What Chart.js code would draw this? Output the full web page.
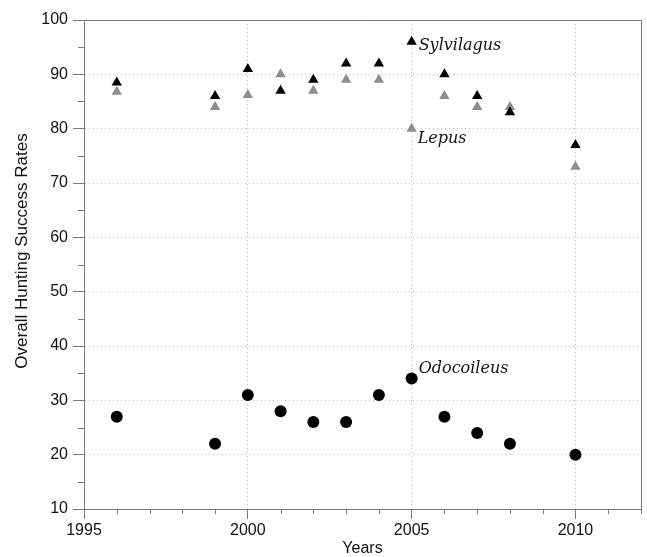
<!DOCTYPE html>
<html>
<head>
<meta charset="utf-8">
<script src="https://cdn.jsdelivr.net/npm/chart.js@4/dist/chart.umd.min.js"></script>
<style>
  html, body { margin: 0; padding: 0; background: #fff; }
  #wrap { width: 647px; height: 557px; }
</style>
</head>
<body>
<div id="wrap"><canvas id="huntChart"></canvas></div>
<script>
const years = [1996, 1999, 2000, 2001, 2002, 2003, 2004, 2005, 2006, 2007, 2008, 2010];
const sylvilagus = [88.5, 86, 91, 87, 89, 92, 92, 96, 90, 86, 83, 77];
const lepus = [86.8, 84, 86.2, 90, 87, 89, 89, 80, 86, 84, 84, 73];
const odocoileus = [27, 22, 31, 28, 26, 26, 31, 34, 27, 24, 22, 20];

const xTicks = [1995, 2000, 2005, 2010];
const xMinor = [1996, 1997, 1998, 1999, 2001, 2002, 2003, 2004, 2006, 2007, 2008, 2009, 2011, 2012];
const yTicks = [10, 20, 30, 40, 50, 60, 70, 80, 90, 100];
const yMinor = [15, 25, 35, 45, 55, 65, 75, 85, 95];

// species names written next to the 2005 points
const speciesLabels = [
  {text: 'Sylvilagus', x: 2005, y: 96, dx: 7, dy: 4},
  {text: 'Lepus', x: 2005, y: 80, dx: 6, dy: 10},
  {text: 'Odocoileus', x: 2005, y: 34, dx: 7, dy: -10}
];
const yTitle = 'Overall Hunting Success Rates';

const axisColor = '#7a7a7a';
const gridColor = '#bdbdbd';
const sansFont = 'Liberation Sans, Arial, sans-serif';

const toPoints = vals => vals.map((v, i) => ({x: years[i], y: v}));

const frameAndMinorTicks = {
  id: 'frameAndMinorTicks',
  afterDraw(chart) {
    const {ctx, chartArea: area, scales: {x, y}} = chart;
    ctx.save();
    ctx.strokeStyle = axisColor;
    ctx.lineWidth = 1;
    ctx.beginPath();
    xMinor.forEach(v => {
      const px = Math.round(x.getPixelForValue(v)) + 0.5;
      ctx.moveTo(px, area.bottom);
      ctx.lineTo(px, area.bottom + 5);
    });
    yMinor.forEach(v => {
      const py = Math.round(y.getPixelForValue(v)) + 0.5;
      ctx.moveTo(area.left - 6, py);
      ctx.lineTo(area.left, py);
    });
    // top and right edges of the box
    const top = Math.round(area.top) + 0.5;
    const right = Math.round(area.right) + 0.5;
    ctx.moveTo(area.left, top);
    ctx.lineTo(right, top);
    ctx.lineTo(right, area.bottom);
    ctx.stroke();

    // y axis title, sitting a little above the middle like the original
    ctx.fillStyle = '#111';
    ctx.font = '17px ' + sansFont;
    ctx.textAlign = 'center';
    ctx.textBaseline = 'middle';
    ctx.translate(22, 251);
    ctx.rotate(-Math.PI / 2);
    ctx.fillText(yTitle, 0, 0);
    ctx.restore();
  },
  afterDatasetsDraw(chart) {
    const {ctx, scales: {x, y}} = chart;
    ctx.save();
    ctx.fillStyle = '#111';
    ctx.font = 'italic 16px "DejaVu Serif", serif';
    ctx.textBaseline = 'middle';
    ctx.textAlign = 'left';
    speciesLabels.forEach(l => {
      ctx.fillText(l.text, x.getPixelForValue(l.x) + l.dx, y.getPixelForValue(l.y) + l.dy);
    });
    ctx.restore();
  }
};

new Chart(document.getElementById('huntChart'), {
  type: 'scatter',
  data: {
    datasets: [
      {
        label: 'Sylvilagus',
        data: toPoints(sylvilagus),
        pointStyle: 'triangle',
        pointRadius: 6,
        pointHoverRadius: 6,
        backgroundColor: '#000',
        borderColor: '#000',
        borderWidth: 0
      },
      {
        label: 'Lepus',
        data: toPoints(lepus),
        pointStyle: 'triangle',
        pointRadius: 6,
        pointHoverRadius: 6,
        backgroundColor: '#8f8e84',
        borderColor: '#8f8e84',
        borderWidth: 0
      },
      {
        label: 'Odocoileus',
        data: toPoints(odocoileus),
        pointStyle: 'circle',
        pointRadius: 6,
        pointHoverRadius: 6,
        backgroundColor: '#000',
        borderColor: '#000',
        borderWidth: 0
      }
    ]
  },
  options: {
    responsive: true,
    maintainAspectRatio: false,
    animation: false,
    layout: {padding: {left: 12, right: 5, top: 20, bottom: 0}},
    plugins: {
      legend: {display: false},
      tooltip: {enabled: false}
    },
    scales: {
      x: {
        type: 'linear',
        min: 1995,
        max: 2012,
        afterBuildTicks: scale => { scale.ticks = xTicks.map(v => ({value: v})); },
        afterFit: scale => { scale.height = 48; },
        grid: {
          color: ctx => (ctx.tick && ctx.tick.value === 1995) ? 'rgba(0,0,0,0)' : gridColor,
          tickColor: axisColor,
          tickLength: 10
        },
        border: {color: axisColor, dash: [1, 3]},
        ticks: {
          color: '#111',
          font: {family: sansFont, size: 16},
          padding: 2,
          maxRotation: 0,
          callback: v => String(v)
        },
        title: {
          display: true,
          text: 'Years',
          color: '#111',
          font: {family: sansFont, size: 16, lineHeight: 1},
          padding: {top: 0, bottom: 0}
        }
      },
      y: {
        type: 'linear',
        min: 10,
        max: 100,
        afterBuildTicks: scale => { scale.ticks = yTicks.map(v => ({value: v})); },
        afterFit: scale => { scale.width = 72; },
        grid: {
          color: ctx => (ctx.tick && (ctx.tick.value === 10 || ctx.tick.value === 100)) ? 'rgba(0,0,0,0)' : gridColor,
          tickColor: axisColor,
          tickLength: 11
        },
        border: {color: axisColor, dash: [1, 3]},
        ticks: {
          color: '#111',
          font: {family: sansFont, size: 16},
          padding: 5
        },
        title: {display: false}
      }
    }
  },
  plugins: [frameAndMinorTicks]
});
</script>
</body>
</html>
